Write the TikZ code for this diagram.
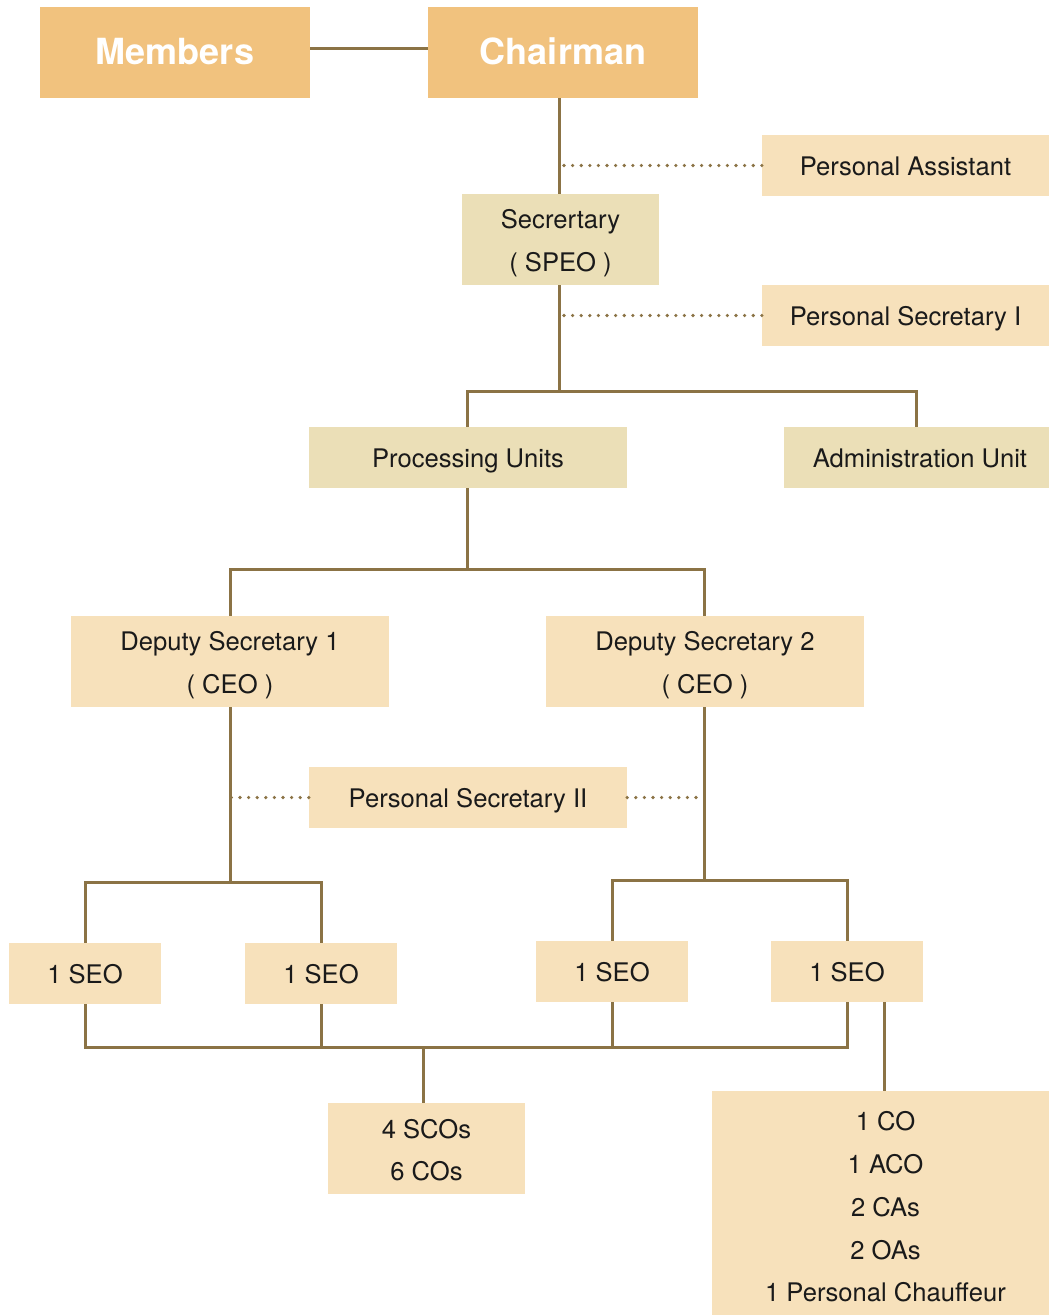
\documentclass[tikz,border=0pt]{standalone}
\usepackage{fontspec}
\setmainfont{TeX Gyre Heros}
\definecolor{orangebox}{HTML}{F1C27E}
\definecolor{lightbox}{HTML}{F7E1BB}
\definecolor{khakibox}{HTML}{EBDFB7}
\definecolor{linec}{HTML}{8B7345}
\definecolor{textc}{HTML}{1A1A1A}
\newcommand{\firstup}[1]{\rule{0pt}{#1pt}}
\newcommand{\lastdown}{\rule[-5.5pt]{0pt}{5.5pt}}
\tikzset{
  box/.style={rectangle, inner sep=0pt, align=center, text=textc,
    font=\fontsize{25.6}{42.5}\selectfont,
    execute at begin node={\rule{0pt}{26pt}},
    execute at end node={\rule[-6pt]{0pt}{6pt}}},
  multi/.style={execute at begin node={}, execute at end node={}},
  topbox/.style={box, fill=orangebox, text=white, font=\fontsize{36}{40}\selectfont\bfseries,
    execute at begin node={\rule{0pt}{29pt}},
    execute at end node={}},
  lbox/.style={box, fill=lightbox},
  kbox/.style={box, fill=khakibox},
  conn/.style={draw=linec, line width=3pt},
  dotline/.style={draw=linec, line width=3.6pt, line cap=round, dash pattern=on 0pt off 8.6pt}
}
\begin{document}
\begin{tikzpicture}[x=1pt,y=-1pt]
\useasboundingbox (0,0) rectangle (1049,1315);
% nodes
\node[topbox, minimum width=270, minimum height=91] (members) at (175,52.5) {Members};
\node[topbox, minimum width=270, minimum height=91] (chair) at (563,52.5) {Chairman};
\node[lbox, minimum width=287, minimum height=61] (pa) at (905.5,165.5) {Personal Assistant};
\node[kbox, multi, minimum width=197, minimum height=91] (sec) at (560.5,239.5) {\firstup{27}Secrertary\\( SPEO )\lastdown};
\node[lbox, minimum width=287, minimum height=61] (ps1) at (905.5,315.5) {Personal Secretary I};
\node[kbox, minimum width=318, minimum height=61] (proc) at (468,457.5) {Processing Units};
\node[kbox, minimum width=265, minimum height=61] (admin) at (916.5,457.5) {\hspace*{7pt}Administration Unit};
\node[lbox, multi, minimum width=318, minimum height=91] (ds1) at (230,661.5) {\firstup{27}Deputy Secretary 1\\( CEO )\lastdown};
\node[lbox, multi, minimum width=318, minimum height=91] (ds2) at (705,661.5) {\firstup{27}Deputy Secretary 2\\( CEO )\lastdown};
\node[lbox, minimum width=318, minimum height=61] (ps2) at (468,797.5) {Personal Secretary II};
\node[lbox, minimum width=152, minimum height=61] (seo1) at (85,973.5) {1 SEO};
\node[lbox, minimum width=152, minimum height=61] (seo2) at (321,973.5) {1 SEO};
\node[lbox, minimum width=152, minimum height=61] (seo3) at (612,971.5) {1 SEO};
\node[lbox, minimum width=152, minimum height=61] (seo4) at (847,971.5) {1 SEO};
\node[lbox, multi, minimum width=197, minimum height=91] (sco) at (426.5,1148.5) {\firstup{28}4 SCOs\\6 COs\lastdown};
\node[lbox, multi, minimum width=337, minimum height=224, font=\fontsize{25.6}{42.75}\selectfont] (big) at (880.5,1203) {\hspace*{10pt}\firstup{32.5}1 CO\\\hspace*{10pt}1 ACO\\\hspace*{10pt}2 CAs\\\hspace*{10pt}2 OAs\\\hspace*{10pt}1 Personal Chauffeur\lastdown};
% junctions
\coordinate (j1) at (559,391);
\coordinate (j2) at (467,569);
\coordinate (j3) at (230,882);
\coordinate (j4) at (704,880);
\coordinate (j5) at (423,1047);
% connectors
\draw[conn] ([yshift=4.5pt]members.east) -- ([yshift=4.5pt]chair.west);
\draw[conn] (chair.south -| j1) -- (sec.north -| j1);
\draw[conn] (sec.south -| j1) -- (j1);
\draw[dotline] (pa.west) -- (pa.west -| j1);
\draw[dotline] (ps1.west) -- (ps1.west -| j1);
\draw[conn] (proc.north -| j2) |- (j1) -| (admin.north);
\draw[conn] (proc.south -| j2) -- (j2);
\draw[conn] (ds1.north) |- (j2) -| (ds2.north -| j4);
\draw[conn] (ds1.south) -- (j3);
\draw[conn] (ds2.south -| j4) -- (j4);
\draw[dotline] (ps2.west) -- (ps2.west -| j3);
\draw[dotline] (ps2.east) -- (ps2.east -| j4);
\draw[conn] (seo1.north) |- (j3) -| (seo2.north);
\draw[conn] (seo3.north) |- (j4) -| (seo4.north);
\draw[conn] (seo1.south) |- (j5) -| (seo4.south);
\draw[conn] (seo2.south) -- (seo2.south |- j5);
\draw[conn] (seo3.south) -- (seo3.south |- j5);
\draw[conn] (j5) -- (sco.north -| j5);
\draw[conn] (seo4.south -| 884,0) -- (big.north -| 884,0);
\end{tikzpicture}
\end{document}
